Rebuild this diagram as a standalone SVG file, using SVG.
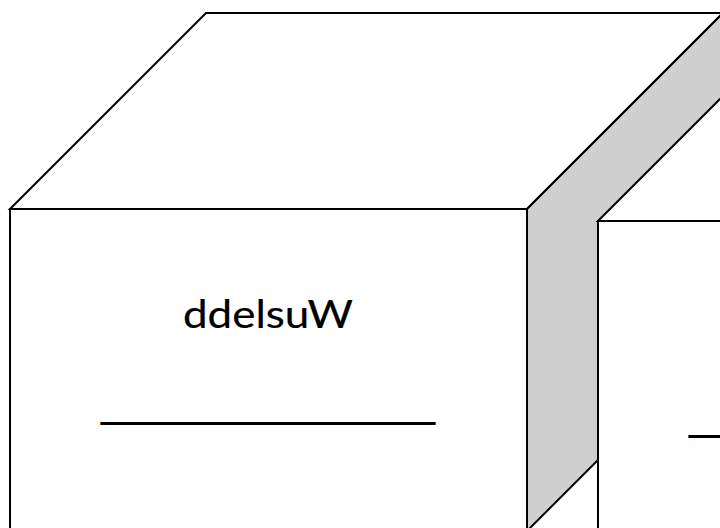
<svg xmlns="http://www.w3.org/2000/svg" width="720" height="528" viewBox="0 0 720 528">
  <style>
    .face { fill: #ffffff; stroke: #000000; stroke-width: 2; stroke-linejoin: miter; }
    .side { fill: #cfcfcf; stroke: #000000; stroke-width: 2; stroke-linejoin: miter; }
    .label { font-family: "Lato", "Noto Sans", "Liberation Sans", sans-serif; font-size: 38px; fill: #000000; stroke: #000000; stroke-width: 0.2; text-anchor: middle; }
    .line { font-family: "Liberation Sans", "Arial", sans-serif; font-size: 46px; fill: #000000; text-anchor: middle; }
  </style>
  <rect x="0" y="0" width="720" height="528" fill="#ffffff"/>
  <g id="node-cube-1">
    <polygon class="face" points="10,209 206,13 723,13 527,209"/>
    <polygon class="side" points="527,209 723,13 723,335 527,531"/>
    <rect class="face" x="10" y="209" width="517" height="322"/>
    <text class="label" x="268" y="328" textLength="170" lengthAdjust="spacingAndGlyphs">ddelsuW</text>
    <text class="line" x="268" y="415.5" textLength="334" lengthAdjust="spacingAndGlyphs">______________</text>
  </g>
  <g id="node-cube-2">
    <polygon class="face" points="598,221 794,25 1311,25 1115,221"/>
    <rect class="face" x="598" y="221" width="517" height="322"/>
    <text class="line" x="856" y="428.5" textLength="334" lengthAdjust="spacingAndGlyphs">______________</text>
  </g>
  <g id="connectors"></g>
</svg>
